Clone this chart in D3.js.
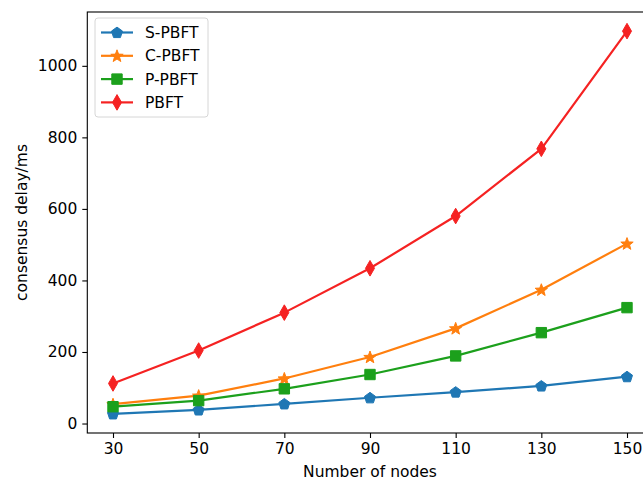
<!DOCTYPE html>
<html>
<head>
<meta charset="utf-8">
<script src="https://d3js.org/d3.v7.min.js"></script>
<style>
  body { margin: 0; background: #fff; }
  svg text { font-family: "DejaVu Sans", sans-serif; fill: #000; }
</style>
</head>
<body>
<div id="chart"></div>
<script>
// data
var nodes = [30, 50, 70, 90, 110, 130, 150];
var sPbft = [27, 38, 55, 72, 88, 105, 131];
var cPbft = [54, 78, 126, 186, 266, 374, 503];
var pPbft = [47, 64, 97, 137, 189, 254, 324];
var pbft  = [112, 204, 310, 434, 580, 768, 1097];
var xTicks = [30, 50, 70, 90, 110, 130, 150];
var yTicks = [0, 200, 400, 600, 800, 1000];

var series = [
  {name: 'S-PBFT', values: sPbft, color: '#1f77b4', marker: 'pentagon'},
  {name: 'C-PBFT', values: cPbft, color: '#ff7f0e', marker: 'star'},
  {name: 'P-PBFT', values: pPbft, color: '#1ca01c', marker: 'square'},
  {name: 'PBFT',   values: pbft,  color: '#f52222', marker: 'diamond'}
];

var W = 643, H = 481;
var mLeft = 87.3, mRight = 652.7, mTop = 12, mBottom = 433;
var fs = 15.5;

var svg = d3.select('#chart').append('svg')
    .attr('width', W).attr('height', H);

var x = d3.scaleLinear().domain([24, 156]).range([mLeft, mRight]);
var y = d3.scaleLinear().domain([-26.5, 1150.5]).range([mBottom, mTop]);

// markers
function markerPath(type) {
  if (type === 'square') {
    return 'M-5.2,-5.2L5.2,-5.2L5.2,5.2L-5.2,5.2Z';
  }
  if (type === 'diamond') {
    return 'M0,-7.8L4.5,0L0,7.8L-4.5,0Z';
  }
  if (type === 'pentagon') {
    var pts = d3.range(5).map(function(i) {
      var a = -Math.PI / 2 + i * 2 * Math.PI / 5;
      return [5.8 * Math.cos(a), 5.8 * Math.sin(a) + 0.4];
    });
    return 'M' + pts.join('L') + 'Z';
  }
  if (type === 'star') {
    var p = [];
    for (var i = 0; i < 10; i++) {
      var a = -Math.PI / 2 + i * Math.PI / 5;
      var r = i % 2 === 0 ? 6.5 : 2.7;
      p.push([r * Math.cos(a), r * Math.sin(a) + 0.5]);
    }
    return 'M' + p.join('L') + 'Z';
  }
}

var line = d3.line()
    .x(function(d, i) { return x(nodes[i]); })
    .y(function(d) { return y(d); });

var plot = svg.append('g');

series.forEach(function(s) {
  plot.append('path')
      .datum(s.values)
      .attr('d', line)
      .attr('fill', 'none')
      .attr('stroke', s.color)
      .attr('stroke-width', 2.2)
      .attr('stroke-linejoin', 'round');

  plot.selectAll(null)
      .data(s.values)
      .enter().append('path')
      .attr('d', markerPath(s.marker))
      .attr('transform', function(d, i) { return 'translate(' + x(nodes[i]) + ',' + y(d) + ')'; })
      .attr('fill', s.color)
      .attr('stroke', s.color)
      .attr('stroke-width', 1);
});

// axes
var xAxis = d3.axisBottom(x).tickValues(xTicks).tickSize(5).tickPadding(5).tickFormat(d3.format('d'));
var yAxis = d3.axisLeft(y).tickValues(yTicks).tickSize(5).tickPadding(5).tickFormat(d3.format('d'));

var gx = svg.append('g').attr('transform', 'translate(0,' + mBottom + ')').call(xAxis);
var gy = svg.append('g').attr('transform', 'translate(' + mLeft + ',0)').call(yAxis);
[gx, gy].forEach(function(g) {
  g.select('.domain').remove();
  g.attr('font-size', fs).attr('font-family', 'DejaVu Sans');
  g.selectAll('.tick line').attr('stroke', '#000').attr('stroke-width', 1.1);
});

// frame
svg.append('rect')
    .attr('x', mLeft).attr('y', mTop)
    .attr('width', mRight - mLeft).attr('height', mBottom - mTop)
    .attr('fill', 'none').attr('stroke', '#000').attr('stroke-width', 1.1);

// axis labels
svg.append('text')
    .attr('x', (mLeft + mRight) / 2).attr('y', 477)
    .attr('text-anchor', 'middle').attr('font-size', fs)
    .text('Number of nodes');

svg.append('text')
    .attr('transform', 'translate(27,' + ((mTop + mBottom) / 2) + ') rotate(-90)')
    .attr('text-anchor', 'middle').attr('font-size', fs)
    .text('consensus delay/ms');

// legend
var lg = svg.append('g').attr('transform', 'translate(95,18)');
lg.append('rect')
    .attr('width', 113).attr('height', 99).attr('rx', 3)
    .attr('fill', '#fff').attr('fill-opacity', 0.8)
    .attr('stroke', '#d6d6d6').attr('stroke-width', 1);

series.forEach(function(s, i) {
  var cy = 14.5 + i * 23.3;
  lg.append('line')
      .attr('x1', 6).attr('x2', 38).attr('y1', cy).attr('y2', cy)
      .attr('stroke', s.color).attr('stroke-width', 2.2);
  lg.append('path')
      .attr('d', markerPath(s.marker))
      .attr('transform', 'translate(22,' + cy + ')')
      .attr('fill', s.color).attr('stroke', s.color).attr('stroke-width', 1);
  lg.append('text')
      .attr('x', 50).attr('y', cy + 5.5)
      .attr('font-size', fs)
      .text(s.name);
});
</script>
</body>
</html>
